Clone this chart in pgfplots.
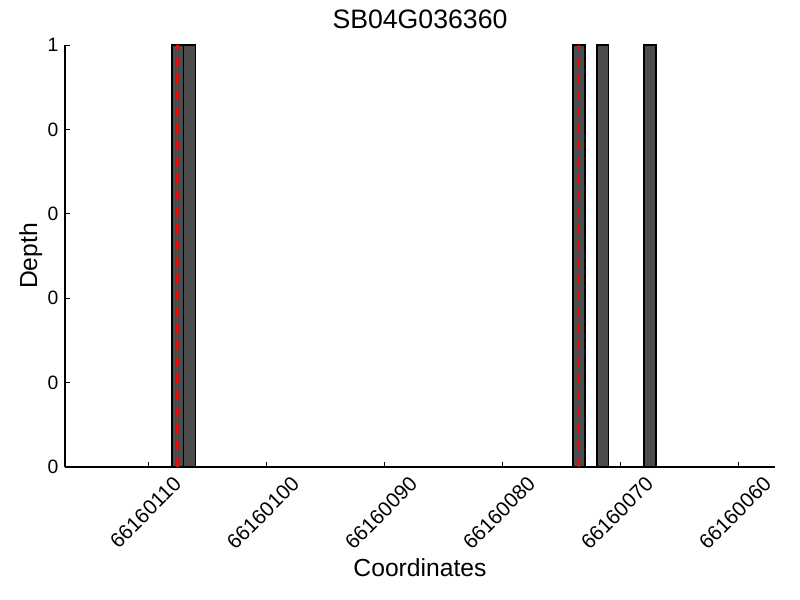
\documentclass[border=0pt]{standalone}
\usepackage{fontspec}
\setmainfont{Liberation Sans}
\usepackage{pgfplots}
\pgfplotsset{compat=1.18}

% x values are positions minus 66160000 (pgf's fpu can't hold 8 digits + .5)
\begin{document}
\begin{tikzpicture}
\useasboundingbox (-48.75pt,-99.75pt) rectangle (551.25pt,350.25pt);
\begin{axis}[
    at={(0pt,0pt)}, anchor=south west,
    scale only axis,
    width=532.5pt, height=316.5pt,
    x dir=reverse,
    xmin=56.9, xmax=117.06,
    ymin=0, ymax=1,
    axis x line*=bottom, axis y line*=left,
    axis line style={line width=1pt},
    tick align=inside,
    major tick length=3.5pt,
    tick style={black, line width=0.6pt},
    xtick={60,70,80,90,100,110},
    xticklabels={66160060,66160070,66160080,66160090,66160100,66160110},
    ytick={0,0.2,0.4,0.6,0.8,1},
    yticklabels={0,0,0,0,0,1},
    xticklabel style={font=\fontsize{15.5}{17}\selectfont, inner sep=0pt,
        xshift=22pt, yshift=-10pt, anchor=east, rotate=45},
    yticklabel style={font=\fontsize{14.5}{17}\selectfont, xshift=-1.5pt},
    title={SB04G036360},
    title style={font=\fontsize{20}{24}\selectfont,
        at={(axis description cs:0.5,1)}, anchor=base, yshift=6pt},
    xlabel={Coordinates},
    xlabel style={font=\fontsize{18.5}{22}\selectfont,
        at={(axis description cs:0.5,0)}, anchor=base, yshift=-81.75pt},
    ylabel={Depth},
    ylabel style={font=\fontsize{18.5}{22}\selectfont,
        at={(axis description cs:-0.0394,0.5)}, anchor=base},
]
% coverage bars, 1 bp wide
\addplot[ybar, bar width=1, fill=black!70, draw=black, line width=1.1pt]
    coordinates {(107.5,1) (106.5,1) (73.5,1) (71.5,1) (67.5,1)};
% marker lines
\addplot[red, line width=2pt, dash pattern=on 7pt off 5.5pt]
    coordinates {(107.5,0) (107.5,1)};
\addplot[red, line width=2pt, dash pattern=on 7pt off 5.5pt]
    coordinates {(73.5,0) (73.5,1)};
\end{axis}
\end{tikzpicture}
\end{document}
